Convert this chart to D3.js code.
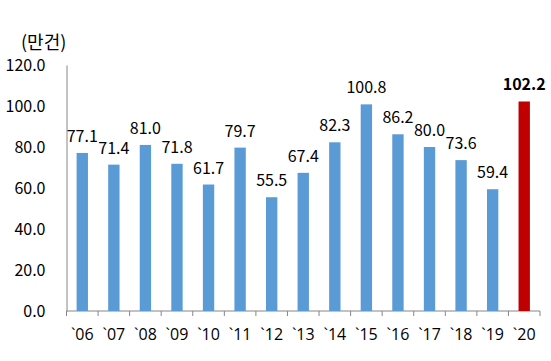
<!DOCTYPE html>
<html>
<head>
<meta charset="utf-8">
<script src="https://cdn.jsdelivr.net/npm/d3@7"></script>
<style>
  body { margin: 0; background: #fff; }
  text { font-family: "Noto Sans CJK KR", "Open Sans", sans-serif; }
  text.xl { font-family: "Open Sans", "Noto Sans CJK KR", sans-serif; }
</style>
</head>
<body>
<div id="chart"></div>
<script>
// data
var years  = ["`06", "`07", "`08", "`09", "`10", "`11", "`12", "`13", "`14", "`15", "`16", "`17", "`18", "`19", "`20"];
var values = [77.1, 71.4, 81.0, 71.8, 61.7, 79.7, 55.5, 67.4, 82.3, 100.8, 86.2, 80.0, 73.6, 59.4, 102.2];
var yTicks = [0, 20, 40, 60, 80, 100, 120];
var unitLabel = "(만건)";

var width = 551, height = 361;
var margin = { left: 66.5, right: 11, top: 65, bottom: 50 };

var svg = d3.select("#chart").append("svg")
    .attr("width", width)
    .attr("height", height);

var x = d3.scaleBand()
    .domain(years)
    .range([margin.left, width - margin.right])
    .paddingInner(0.64)
    .paddingOuter(0.32);

var y = d3.scaleLinear()
    .domain([0, 120])
    .range([height - margin.bottom, margin.top]);

// y axis: line + labels, no tick marks
var yAxis = svg.append("g")
    .attr("transform", "translate(" + margin.left + ",0)")
    .call(d3.axisLeft(y).tickValues(yTicks).tickSize(0).tickPadding(21)
        .tickFormat(function(d) { return d.toFixed(1); }));
yAxis.select(".domain").attr("stroke", "#868686");
yAxis.selectAll("text")
    .attr("fill", "#000")
    .style("font-size", "16px");

// x axis: ticks at category boundaries
var step = x.step();
var xg = svg.append("g")
    .attr("transform", "translate(0," + y(0) + ")");
xg.append("line")
    .attr("x1", margin.left).attr("x2", width - margin.right)
    .attr("stroke", "#868686");
xg.selectAll("line.tk")
    .data(d3.range(years.length + 1))
    .enter().append("line")
    .attr("class", "tk")
    .attr("x1", function(i) { return margin.left + i * step; })
    .attr("x2", function(i) { return margin.left + i * step; })
    .attr("y1", 0).attr("y2", 5)
    .attr("stroke", "#868686");
xg.selectAll("text")
    .data(years)
    .enter().append("text")
    .attr("class", "xl")
    .attr("x", function(d) { return x(d) + x.bandwidth() / 2; })
    .attr("y", 29)
    .attr("text-anchor", "middle")
    .style("font-size", "16px")
    .text(function(d) { return d; });

// bars
svg.append("g").selectAll("rect")
    .data(values)
    .enter().append("rect")
    .attr("x", function(d, i) { return x(years[i]); })
    .attr("y", function(d) { return y(d); })
    .attr("width", x.bandwidth())
    .attr("height", function(d) { return y(0) - y(d); })
    .attr("fill", function(d, i) { return i === values.length - 1 ? "#C00000" : "#5B9BD5"; });

// value labels
svg.append("g").selectAll("text")
    .data(values)
    .enter().append("text")
    .attr("x", function(d, i) { return x(years[i]) + x.bandwidth() / 2; })
    .attr("y", function(d) { return y(d) - 11; })
    .attr("text-anchor", "middle")
    .style("font-size", "16px")
    .style("font-weight", function(d, i) { return i === values.length - 1 ? "bold" : "normal"; })
    .text(function(d) { return d.toFixed(1); });

// unit label
svg.append("text")
    .attr("x", 21)
    .attr("y", 49)
    .style("font-size", "18px")
    .text(unitLabel);
</script>
</body>
</html>
